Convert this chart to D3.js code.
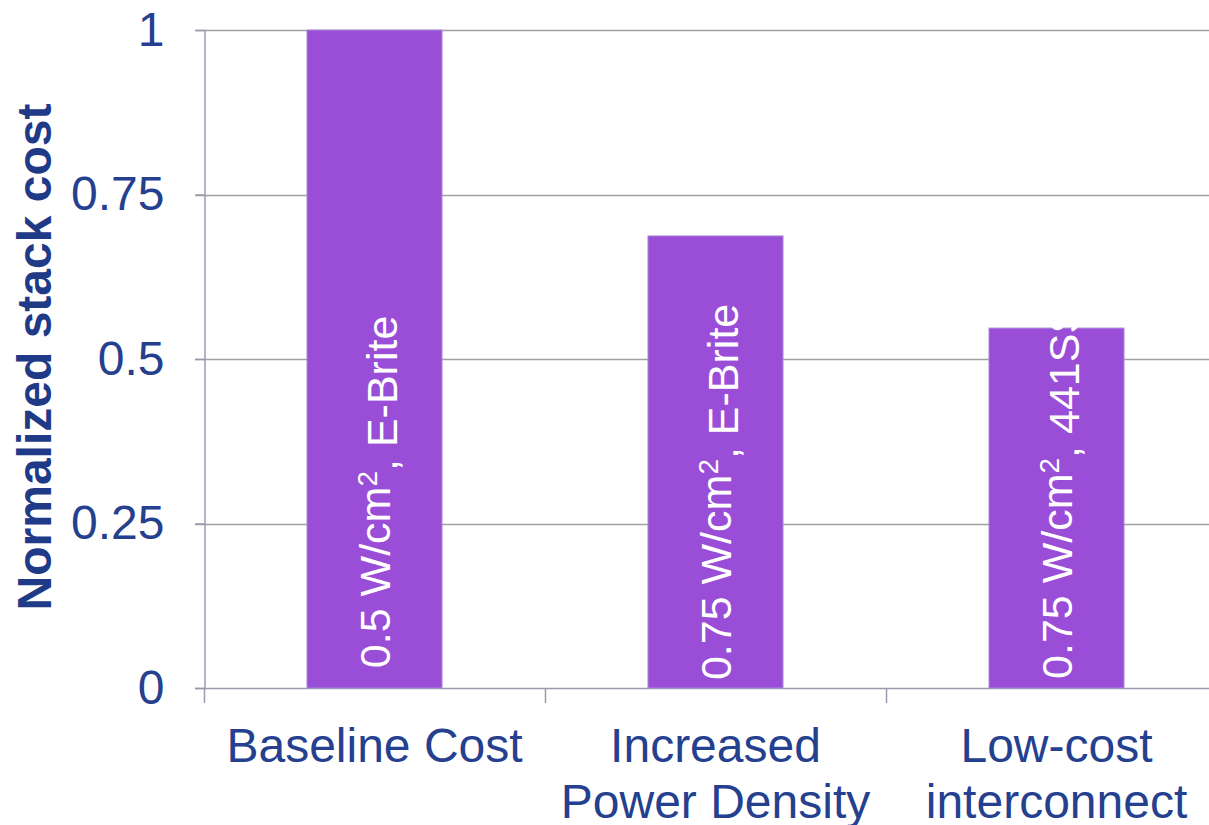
<!DOCTYPE html>
<html>
<head>
<meta charset="utf-8">
<script src="https://cdn.jsdelivr.net/npm/d3@7"></script>
<style>
  html, body { margin: 0; padding: 0; background: #fff; }
  svg { display: block; }
  text { font-family: "Liberation Sans", Arial, sans-serif; }
</style>
</head>
<body>
<svg id="chart" width="1209" height="825"></svg>
<script>
// Scenario categories (multi-line axis labels)
const categories = ["Baseline Cost", "Increased Power Density", "Low-cost interconnect"];
const categoryLines = [["Baseline Cost"], ["Increased", "Power Density"], ["Low-cost", "interconnect"]];
// Normalized stack cost per scenario
const stackCost = [1.0, 0.687, 0.547];
// In-bar annotations: power density and interconnect material
const powerDensity = ["0.5", "0.75", "0.75"];
const material = ["E-Brite", "E-Brite", "441SS"];
// Y axis ticks
const yTicks = [0, 0.25, 0.5, 0.75, 1];
const yTickLabels = ["0", "0.25", "0.5", "0.75", "1"];

const svg = d3.select("#chart");
const plotLeft = 204, plotTop = 30, plotBottom = 688, plotRight = 1227;

const x = d3.scaleBand().domain(categories).range([plotLeft, plotRight]).padding(0);
const y = d3.scaleLinear().domain([0, 1]).range([plotBottom, plotTop]);
const barW = x.bandwidth() * 0.396;

const textColor = "#24408e";
const axisColor = "#9a9aae";

// Horizontal gridlines
svg.append("g")
  .selectAll("line")
  .data(yTicks)
  .join("line")
  .attr("x1", plotLeft - 9)
  .attr("x2", 1209)
  .attr("y1", d => Math.round(y(d)) + 0.5)
  .attr("y2", d => Math.round(y(d)) + 0.5)
  .attr("stroke", d => d === 0 ? axisColor : "#a0a0a0")
  .attr("stroke-width", 1.5);

// Y axis with labels
const yAxis = d3.axisLeft(y)
  .tickValues(yTicks)
  .tickFormat((d, i) => yTickLabels[i])
  .tickSizeInner(9)
  .tickSizeOuter(0)
  .tickPadding(31);

const gy = svg.append("g")
  .attr("transform", `translate(${plotLeft + 0.5},0)`)
  .call(yAxis);
gy.select(".domain").attr("stroke", axisColor).attr("stroke-width", 1.5);
gy.selectAll(".tick line").attr("stroke", axisColor).attr("stroke-width", 1.5);
gy.selectAll(".tick text")
  .attr("fill", textColor)
  .style("font-size", "48px")
  .style("font-family", "'Liberation Sans', Arial, sans-serif");

// Category boundary ticks below the baseline
const boundaries = categories.map(c => x(c)).concat([plotRight]);
svg.append("g")
  .selectAll("line")
  .data(boundaries)
  .join("line")
  .attr("x1", d => Math.round(d) + 0.5)
  .attr("x2", d => Math.round(d) + 0.5)
  .attr("y1", y(0))
  .attr("y2", y(0) + 15)
  .attr("stroke", axisColor)
  .attr("stroke-width", 1.5);

// Bars
svg.append("g")
  .selectAll("rect")
  .data(stackCost)
  .join("rect")
  .attr("x", (d, i) => x(categories[i]) + (x.bandwidth() - barW) / 2)
  .attr("width", barW)
  .attr("y", d => y(d))
  .attr("height", d => y(0) - y(d))
  .attr("fill", "#9a4ed8")
  .attr("stroke", "#a98bd6")
  .attr("stroke-width", 1);

// Vertical annotations inside bars
const labels = svg.append("g")
  .selectAll("text")
  .data(stackCost)
  .join("text")
  .attr("transform", (d, i) => {
    const cx = x(categories[i]) + x.bandwidth() / 2;
    return `translate(${cx},${y(0.298)}) rotate(-90)`;
  })
  .attr("text-anchor", "middle")
  .attr("dy", "0.36em")
  .attr("fill", "#ffffff")
  .style("font-size", "43px");

labels.append("tspan").text((d, i) => `${powerDensity[i]} W/cm`);
labels.append("tspan")
  .attr("dy", "-0.45em")
  .style("font-size", "28px")
  .text("2");
labels.append("tspan")
  .attr("dy", "0.45em")
  .text((d, i) => `,  ${material[i]}`);

// Category labels
const xl = svg.append("g")
  .selectAll("text")
  .data(categoryLines)
  .join("text")
  .attr("x", (d, i) => x(categories[i]) + x.bandwidth() / 2)
  .attr("y", 762)
  .attr("text-anchor", "middle")
  .attr("fill", textColor)
  .style("font-size", "48px");

xl.selectAll("tspan")
  .data((d, i) => d.map(t => ({ t, i })))
  .join("tspan")
  .attr("x", d => x(categories[d.i]) + x.bandwidth() / 2)
  .attr("dy", (d, j) => j === 0 ? 0 : 56)
  .text(d => d.t);

// Y axis title
svg.append("text")
  .attr("transform", "translate(34,357) rotate(-90)")
  .attr("text-anchor", "middle")
  .attr("dy", "0.35em")
  .attr("fill", "#1f3a87")
  .style("font-size", "48px")
  .style("font-weight", "bold")
  .text("Normalized stack cost");
</script>
</body>
</html>
